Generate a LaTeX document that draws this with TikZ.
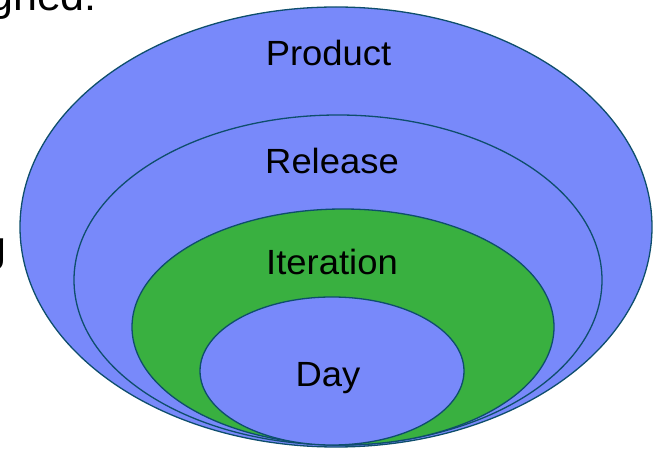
\documentclass[tikz,border=0pt]{standalone}
\usepackage{fontspec}
\setmainfont{Liberation Sans}
\usetikzlibrary{shapes.geometric}
\definecolor{fillblue}{RGB}{120,137,250}
\definecolor{fillgreen}{RGB}{57,176,64}
\definecolor{edgeteal}{RGB}{14,78,108}
\begin{document}
\begin{tikzpicture}[x=1pt,y=-1pt,
  ring/.style={ellipse, draw=edgeteal, line width=1.3pt, inner sep=0pt},
  lbl/.style={anchor=base, inner sep=0pt, font=\fontsize{35}{40}\selectfont, xscale=1.04},
  side/.style={anchor=base west, inner sep=0pt, font=\fontsize{43}{48}\selectfont}]
\useasboundingbox (0,0) rectangle (654,449);
\begin{scope}
\clip (0,0) rectangle (654,449);
\node[side] (toptext) at (-11,11) {gned:};
\node[side] (lefttext) at (-18,262) {g};
\node[ring, fill=fillblue, minimum width=632pt, minimum height=440pt] (product) at (336,227) {};
\node[ring, fill=fillblue, minimum width=528pt, minimum height=330pt] (release) at (338,280) {};
\node[ring, fill=fillgreen, minimum width=422pt, minimum height=236pt] (iteration) at (343,327) {};
\node[ring, fill=fillblue, minimum width=264pt, minimum height=148pt] (day) at (332,371) {};
\end{scope}
\node[lbl] (productlbl) at (328.5,66) {Product};
\node[lbl] (releaselbl) at (332,174) {Release};
\node[lbl] (iterationlbl) at (332,275) {Iteration};
\node[lbl] (daylbl) at (328,387) {Day};
\end{tikzpicture}
\end{document}
